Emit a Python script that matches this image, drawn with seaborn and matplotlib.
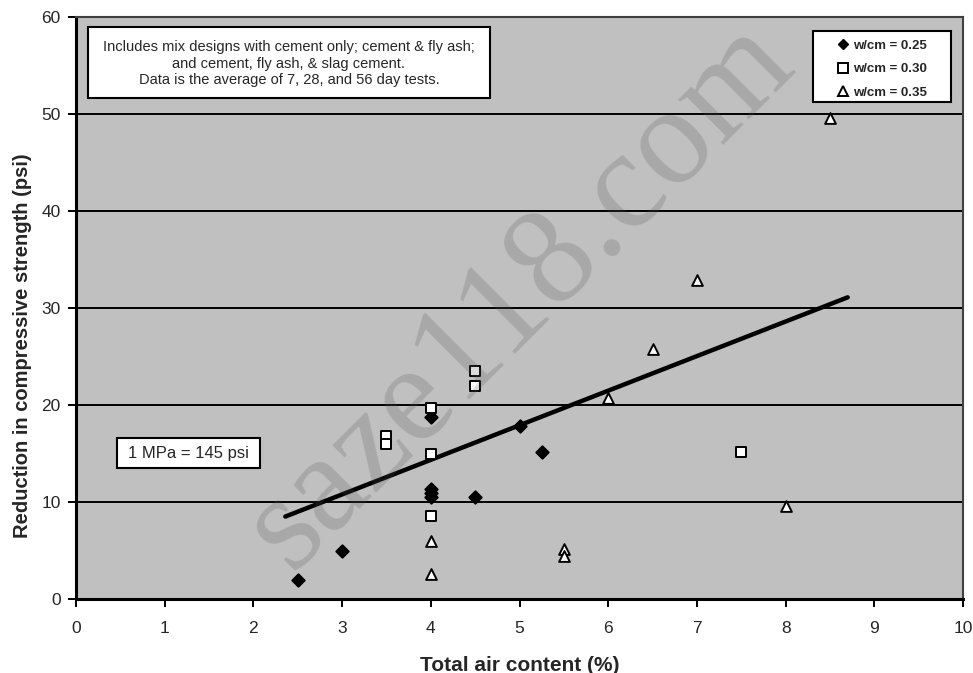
import numpy as np
import pandas as pd
import seaborn as sns
import matplotlib
matplotlib.use("Agg")
import matplotlib.pyplot as plt
from matplotlib.patches import Rectangle
from matplotlib.lines import Line2D

# Total air content (%) vs. reduction in compressive strength (psi)
air_025 = [2.5, 3.0, 4.0, 4.0, 4.0, 4.0, 4.5, 5.0, 5.25]
red_025 = [2.0, 4.9, 18.8, 11.3, 10.9, 10.5, 10.5, 17.8, 15.2]

air_030 = [3.5, 3.5, 4.0, 4.0, 4.0, 4.5, 4.5, 7.5]
red_030 = [16.8, 16.0, 19.7, 15.0, 8.6, 23.5, 22.0, 15.2]

air_035 = [4.0, 4.0, 5.5, 5.5, 6.0, 6.5, 7.0, 8.0, 8.5]
red_035 = [6.0, 2.6, 5.2, 4.4, 20.7, 25.8, 32.9, 9.6, 49.6]

# Linear trend line end points
trend_air = [2.36, 8.70]
trend_red = [8.5, 31.1]

group_labels = ["w/cm = 0.25", "w/cm = 0.30", "w/cm = 0.35"]
x_ticks = list(range(0, 11))
y_ticks = list(range(0, 61, 10))

df = pd.concat([
    pd.DataFrame({"air": air_025, "red": red_025, "grp": group_labels[0]}),
    pd.DataFrame({"air": air_030, "red": red_030, "grp": group_labels[1]}),
    pd.DataFrame({"air": air_035, "red": red_035, "grp": group_labels[2]}),
], ignore_index=True)
trend = pd.DataFrame({"air": trend_air, "red": trend_red})

sns.set_theme(style="white")
SANS = ["Liberation Sans", "DejaVu Sans"]
plt.rcParams["font.family"] = SANS

fig = plt.figure(figsize=(9.73, 6.73), dpi=100)
fig.patch.set_facecolor("white")
ax = fig.add_axes([76 / 973, 1 - 599 / 673, 887 / 973, 582 / 673])
ax.set_facecolor("#c0c0c0")

# horizontal gridlines
for yv in y_ticks[1:-1]:
    ax.axhline(yv, color="black", lw=1.4, zorder=1)

styles = {
    group_labels[0]: dict(marker="D", s=40, facecolor="black"),
    group_labels[1]: dict(marker="s", s=60, facecolor="white"),
    group_labels[2]: dict(marker="^", s=60, facecolor="white"),
}
for g, st in styles.items():
    sub = df[df["grp"] == g]
    sns.scatterplot(data=sub, x="air", y="red", ax=ax, marker=st["marker"],
                    s=st["s"], color=st["facecolor"], edgecolor="black",
                    linewidth=1.4, zorder=4, legend=False)

sns.lineplot(data=trend, x="air", y="red", ax=ax, color="black", lw=3.2,
             zorder=3, legend=False)

ax.set_xlim(0, 10)
ax.set_ylim(0, 60)
ax.set_xticks(x_ticks)
ax.set_yticks(y_ticks)
ax.set_xticklabels([str(v) for v in x_ticks], fontsize=12.5)
ax.set_yticklabels([str(v) for v in y_ticks], fontsize=12.5)
ax.tick_params(axis="both", direction="out", length=6, width=1.4,
               color="black", bottom=True, left=True)
ax.tick_params(axis="y", pad=5)
ax.tick_params(axis="x", pad=10)

for side in ["left", "bottom"]:
    ax.spines[side].set_color("black")
    ax.spines[side].set_linewidth(2.2)
for side in ["top", "right"]:
    ax.spines[side].set_color("#404040")
    ax.spines[side].set_linewidth(1.5)

ax.set_xlabel("Total air content (%)", fontsize=15, fontweight="bold",
              labelpad=14)
ax.set_ylabel("Reduction in compressive strength (psi)", fontsize=14.5,
              fontweight="bold")
ax.yaxis.set_label_coords(-0.05, 0.435)

# note box
ax.add_patch(Rectangle((0.0135, 0.861), 0.453, 0.122, transform=ax.transAxes,
                       facecolor="white", edgecolor="black", lw=1.5, zorder=5))
ax.text(0.0135 + 0.453 / 2, 0.861 + 0.122 / 2 - 0.002,
        "Includes mix designs with cement only; cement & fly ash;\n"
        "and cement, fly ash, & slag cement.\n"
        "Data is the average of 7, 28, and 56 day tests.",
        transform=ax.transAxes, ha="center", va="center", fontsize=10.5,
        linespacing=1.25, zorder=6)

# unit conversion box
ax.add_patch(Rectangle((0.0462, 0.225), 0.161, 0.0515, transform=ax.transAxes,
                       facecolor="white", edgecolor="black", lw=1.5, zorder=5))
ax.text(0.0462 + 0.161 / 2, 0.225 + 0.0515 / 2, "1 MPa = 145 psi",
        transform=ax.transAxes, ha="center", va="center", fontsize=12,
        zorder=6)

# legend box
leg_box = (0.831, 0.854, 0.156, 0.122)
ax.add_patch(Rectangle(leg_box[:2], leg_box[2], leg_box[3],
                       transform=ax.transAxes, facecolor="white",
                       edgecolor="black", lw=1.5, zorder=6))
handles = [
    Line2D([], [], ls="none", marker="D", ms=5, mfc="black", mec="black"),
    Line2D([], [], ls="none", marker="s", ms=7, mfc="white", mec="black", mew=1.4),
    Line2D([], [], ls="none", marker="^", ms=7, mfc="white", mec="black", mew=1.4),
]
leg = ax.legend(handles, group_labels, loc="center",
                bbox_to_anchor=(leg_box[0], leg_box[1] - 0.005,
                                leg_box[2], leg_box[3]),
                bbox_transform=ax.transAxes,
                frameon=False, prop={"weight": "bold", "size": 9.5},
                handlelength=0.8, handletextpad=0.3, labelspacing=0.85,
                borderpad=0.1, borderaxespad=0)
leg.set_zorder(7)

# site watermark
fig.text(0.535, 0.56, "saze118.com", rotation=45, ha="center", va="center",
         fontsize=100, family=["Liberation Serif", "DejaVu Serif"],
         color="#555555", alpha=0.22, zorder=10)

fig.savefig("out.png", dpi=100)
